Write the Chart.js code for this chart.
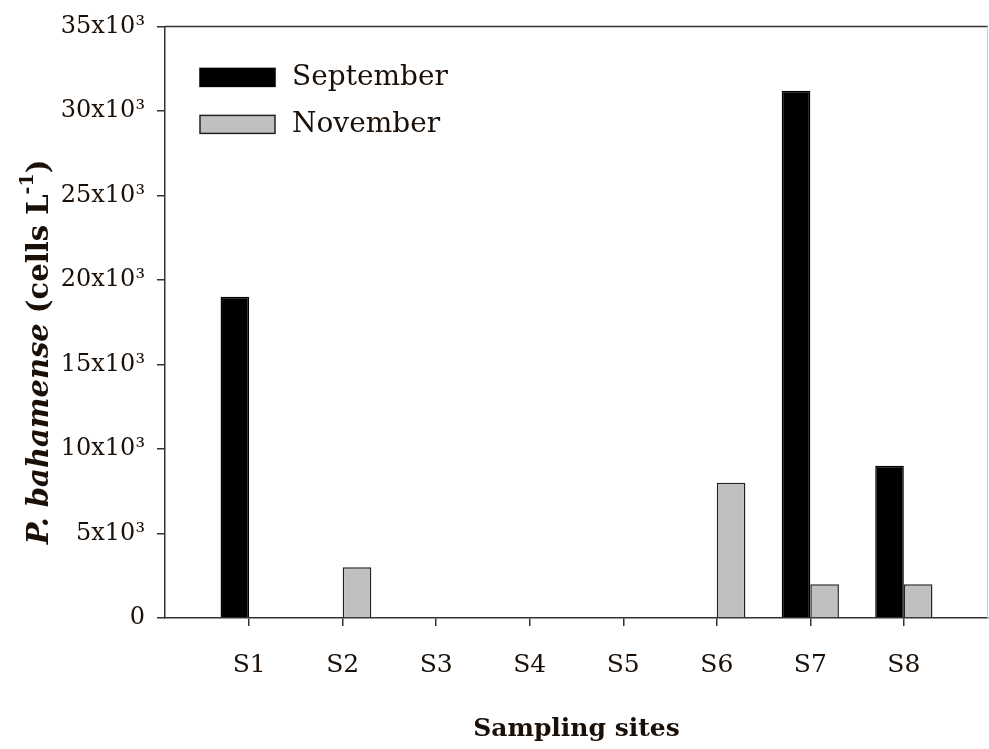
<!DOCTYPE html>
<html>
<head>
<meta charset="utf-8">
<script src="https://cdn.jsdelivr.net/npm/chart.js@4.4.1/dist/chart.umd.min.js"></script>
<style>
  html, body { margin: 0; padding: 0; background: #fff; }
  #wrap { width: 989px; height: 749px; }
</style>
</head>
<body>
<div id="wrap"><canvas id="chart"></canvas></div>
<script>
const sites = ['S1', 'S2', 'S3', 'S4', 'S5', 'S6', 'S7', 'S8'];
const september = [19000, 0, 0, 0, 0, 0, 31200, 9000];
const november = [0, 3000, 0, 0, 0, 8000, 2000, 2000];
const yTicks = [0, 5000, 10000, 15000, 20000, 25000, 30000, 35000];

const serif = "'DejaVu Serif', 'Liberation Serif', serif";
const ink = '#333';
const textColor = '#1a1008';

// y title with italic species name and superscript, drawn on the canvas
const yTitlePlugin = {
    id: 'yTitle',
    afterDraw(chart) {
        const ctx = chart.ctx;
        const parts = [
            { t: 'P. bahamense', f: 'italic bold 29px ' + serif, dy: 0 },
            { t: ' (cells L', f: 'bold 29px ' + serif, dy: 0 },
            { t: '-1', f: 'bold 19px ' + serif, dy: -12 },
            { t: ')', f: 'bold 29px ' + serif, dy: 0 }
        ];
        let total = 0;
        parts.forEach(p => { ctx.font = p.f; p.w = ctx.measureText(p.t).width; total += p.w; });
        ctx.save();
        ctx.translate(40, 352);
        ctx.rotate(-Math.PI / 2);
        ctx.fillStyle = textColor;
        ctx.textBaseline = 'middle';
        let x = -total / 2;
        parts.forEach(p => {
            ctx.font = p.f;
            ctx.fillText(p.t, x, p.dy);
            x += p.w;
        });
        ctx.restore();
    }
};

// legend box inside the plot, top-left
const legendPlugin = {
    id: 'insideLegend',
    afterDraw(chart) {
        const ctx = chart.ctx;
        const a = chart.chartArea;
        ctx.save();
        ctx.font = '28px ' + serif;
        ctx.textBaseline = 'middle';
        chart.data.datasets.forEach((ds, i) => {
            const x = a.left + 35;
            const y = a.top + 42 + i * 47;
            ctx.fillStyle = ds.backgroundColor;
            ctx.fillRect(x, y, 75, 18);
            ctx.strokeStyle = ds.borderColor;
            ctx.lineWidth = 1.5;
            ctx.strokeRect(x, y, 75, 18);
            ctx.fillStyle = textColor;
            ctx.fillText(ds.label, x + 92, y + 9);
        });
        ctx.restore();
    }
};

// top frame line and faint right edge
const framePlugin = {
    id: 'frame',
    afterDatasetsDraw(chart) {
        const ctx = chart.ctx;
        const a = chart.chartArea;
        ctx.save();
        ctx.strokeStyle = ink;
        ctx.lineWidth = 1.5;
        ctx.beginPath();
        ctx.moveTo(a.left, a.top);
        ctx.lineTo(a.right, a.top);
        ctx.stroke();
        ctx.strokeStyle = '#ccc';
        ctx.lineWidth = 1;
        ctx.beginPath();
        ctx.moveTo(a.right - 0.5, a.top);
        ctx.lineTo(a.right - 0.5, a.bottom);
        ctx.stroke();
        ctx.restore();
    }
};

const toPoints = arr => arr.map((v, i) => ({ x: i + 1, y: v }));

new Chart(document.getElementById('chart'), {
    type: 'bar',
    data: {
        datasets: [{
            label: 'September',
            data: toPoints(september),
            backgroundColor: '#000',
            borderColor: '#000',
            borderWidth: 1.5,
            borderSkipped: 'start'
        }, {
            label: 'November',
            data: toPoints(november),
            backgroundColor: '#c0c0c0',
            borderColor: '#222',
            borderWidth: 1.5,
            borderSkipped: 'start'
        }]
    },
    options: {
        responsive: true,
        maintainAspectRatio: false,
        animation: false,
        datasets: {
            bar: { categoryPercentage: 0.612, barPercentage: 1 }
        },
        layout: { padding: { left: 55, top: 25, right: 1, bottom: 0 } },
        plugins: {
            tooltip: { enabled: false },
            legend: { display: false }
        },
        scales: {
            x: {
                type: 'linear',
                min: 0.1,
                max: 8.9,
                offset: false,
                afterBuildTicks: s => { s.ticks = sites.map((_, i) => ({ value: i + 1 })); },
                afterFit: s => { s.height = 131; },
                grid: { offset: false, drawOnChartArea: false, drawTicks: true, tickLength: 8, color: ink, lineWidth: 1.5 },
                border: { display: true, color: ink, width: 1.5 },
                ticks: {
                    padding: 24,
                    color: textColor,
                    font: { family: serif, size: 25 },
                    callback: v => sites[v - 1]
                },
                title: {
                    display: true,
                    text: 'Sampling sites',
                    color: textColor,
                    font: { family: serif, size: 25, weight: 'bold' },
                    padding: { top: 0, bottom: 5 }
                }
            },
            y: {
                min: yTicks[0],
                max: yTicks[yTicks.length - 1],
                afterBuildTicks: s => { s.ticks = yTicks.map(v => ({ value: v })); },
                afterFit: s => { s.width = 110; },
                grid: { drawOnChartArea: false, drawTicks: true, tickLength: 8, color: ink, lineWidth: 1.5 },
                border: { display: true, color: ink, width: 1.5 },
                ticks: {
                    padding: 12,
                    color: textColor,
                    font: { family: serif, size: 24 },
                    callback: v => v === 0 ? '0' : (v / 1000) + 'x10\u00B3'
                }
            }
        }
    },
    plugins: [yTitlePlugin, legendPlugin, framePlugin]
});
</script>
</body>
</html>
